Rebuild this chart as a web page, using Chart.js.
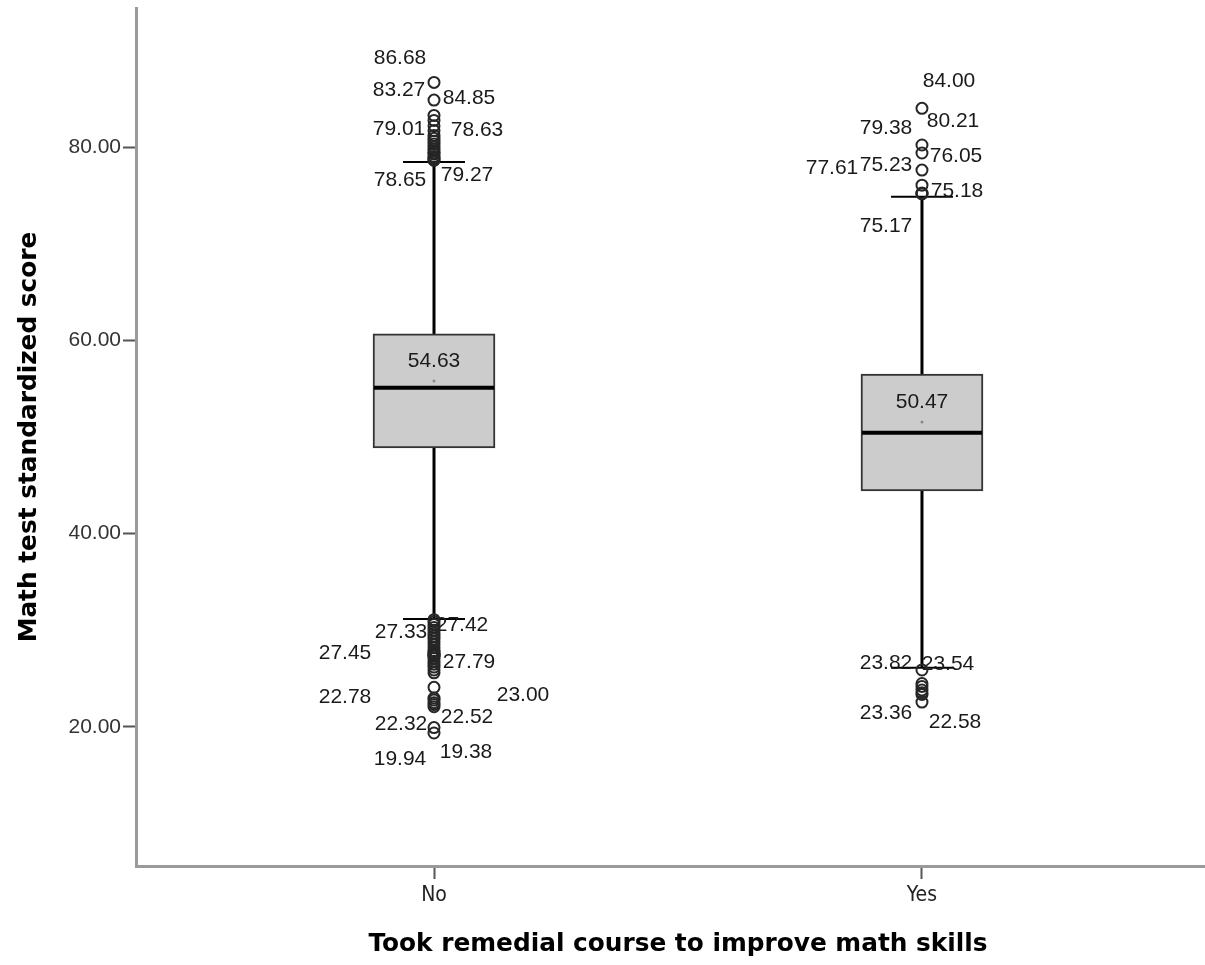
<!DOCTYPE html>
<html>
<head>
<meta charset="utf-8">
<script src="https://cdn.jsdelivr.net/npm/chart.js@4/dist/chart.umd.min.js"></script>
<style>
  html, body { margin: 0; padding: 0; background: #ffffff; }
  #wrap { width: 1205px; height: 965px; position: relative; }
</style>
</head>
<body>
<div id="wrap"><canvas id="c" width="1205" height="965"></canvas></div>
<script>
// ---------- data ----------
const categories = ['No', 'Yes'];
const q1Values = [48.86, 44.42];
const q3Values = [60.66, 56.52];
const medianValues = [55.10, 50.45];
const meanValues = [55.79, 51.55];
const whiskerLowValues = [31.17, 26.14];
const whiskerHighValues = [78.45, 74.86];
const boxLabels = ['54.63', '50.47'];

const outliersNo = [86.68, 84.85, 83.27, 82.75, 82.2, 81.7, 81.2, 80.9, 80.6, 80.3, 80.0, 79.8, 79.6, 79.4,
  79.27, 79.01, 78.85, 78.65, 78.63,
  31.1, 30.9, 30.6, 30.3, 30.0, 29.7, 29.4, 29.1, 28.8, 28.5, 28.2, 27.9, 27.79, 27.6, 27.45, 27.42, 27.33,
  27.1, 26.8, 26.5, 26.2, 25.9, 25.6, 24.1, 23.00, 22.78, 22.52, 22.32, 22.1, 19.94, 19.38];
const outliersYes = [84.00, 80.21, 79.38, 77.61, 76.05, 75.23, 75.18, 75.17,
  25.9, 24.5, 24.2, 23.82, 23.54, 23.36, 22.58];

const labelledNo = [86.68, 83.27, 84.85, 79.01, 78.63, 78.65, 79.27,
  27.33, 27.42, 27.45, 27.79, 22.78, 23.00, 22.32, 22.52, 19.94, 19.38];
const labelledYes = [84.00, 80.21, 79.38, 77.61, 75.23, 76.05, 75.18, 75.17,
  23.82, 23.54, 23.36, 22.58];

const yTickValues = [20, 40, 60, 80];
const yTitle = 'Math test standardized score';
const xTitle = 'Took remedial course to improve math skills';

// ---------- layout (pixel offsets of labels from their outlier point) ----------
const labelOffsetsNo = [[-34, -24], [-35, -25], [35, -2], [-35, -27], [43, -30], [-34, 20], [33, 21],
  [-33, -24], [28, -30], [-89, -2], [35, 11], [-89, -3], [89, -3], [-33, 20], [33, 15], [-34, 32], [32, 19]];
const labelOffsetsYes = [[27, -27], [31, -24], [-36, -25], [-90, -2], [-36, -28], [34, -29], [35, -2], [-36, 33],
  [-36, -27], [26, -29], [-36, 19], [33, 20]];

const FONT = "'Liberation Sans', Arial, sans-serif";
const NARROW = "'Liberation Sans Narrow', 'Arial Narrow', 'DejaVu Sans Condensed', sans-serif";
const TITLE_FONT = "'DejaVu Sans', sans-serif";

const boxPlugin = {
  id: 'boxparts',
  beforeDatasetsDraw(chart) {
    const { ctx } = chart;
    const xs = chart.scales.x, ys = chart.scales.y;
    ctx.save();
    ctx.strokeStyle = '#000000';
    categories.forEach((c, i) => {
      const cx = xs.getPixelForValue(i + 1);
      const yLo = ys.getPixelForValue(whiskerLowValues[i]);
      const yHi = ys.getPixelForValue(whiskerHighValues[i]);
      const yQ1 = ys.getPixelForValue(q1Values[i]);
      const yQ3 = ys.getPixelForValue(q3Values[i]);
      ctx.lineWidth = 3;
      ctx.beginPath();
      ctx.moveTo(cx, yHi); ctx.lineTo(cx, yQ3);
      ctx.moveTo(cx, yQ1); ctx.lineTo(cx, yLo);
      ctx.stroke();
      ctx.lineWidth = 2;
      ctx.beginPath();
      ctx.moveTo(cx - 31, yHi); ctx.lineTo(cx + 31, yHi);
      ctx.moveTo(cx - 31, yLo); ctx.lineTo(cx + 31, yLo);
      ctx.stroke();
    });
    // outlier labels (drawn under the circles)
    ctx.fillStyle = '#1a1a1a';
    ctx.font = '21px ' + FONT;
    ctx.textAlign = 'center';
    ctx.textBaseline = 'middle';
    const groups = [[labelledNo, labelOffsetsNo, 1], [labelledYes, labelOffsetsYes, 2]];
    groups.forEach(([vals, offs, xv]) => {
      const px = xs.getPixelForValue(xv);
      vals.forEach((v, k) => {
        const py = ys.getPixelForValue(v);
        ctx.fillText(v.toFixed(2), px + offs[k][0], py + offs[k][1]);
      });
    });
    ctx.restore();
  },
  afterDatasetsDraw(chart) {
    const { ctx } = chart;
    const xs = chart.scales.x, ys = chart.scales.y;
    ctx.save();
    categories.forEach((c, i) => {
      const cx = xs.getPixelForValue(i + 1);
      const yMed = ys.getPixelForValue(medianValues[i]);
      const yMean = ys.getPixelForValue(meanValues[i]);
      ctx.strokeStyle = '#000000';
      ctx.lineWidth = 4;
      ctx.beginPath();
      ctx.moveTo(cx - 60, yMed); ctx.lineTo(cx + 60, yMed);
      ctx.stroke();
      ctx.fillStyle = '#8a8a8a';
      ctx.beginPath();
      ctx.arc(cx, yMean, 1.5, 0, Math.PI * 2);
      ctx.fill();
      ctx.fillStyle = '#1a1a1a';
      ctx.font = '21px ' + FONT;
      ctx.textAlign = 'center';
      ctx.textBaseline = 'middle';
      ctx.fillText(boxLabels[i], cx, yMean - 20);
    });
    // axis titles
    ctx.fillStyle = '#000000';
    ctx.font = 'bold 24.8px ' + TITLE_FONT;
    ctx.textAlign = 'center';
    ctx.textBaseline = 'middle';
    const midX = (xs.getPixelForValue(1) + xs.getPixelForValue(2)) / 2;
    ctx.fillText(xTitle, midX, chart.chartArea.bottom + 79);
    ctx.translate(30, (chart.chartArea.top + chart.chartArea.bottom) / 2);
    ctx.rotate(-Math.PI / 2);
    ctx.fillText(yTitle, 0, 0);
    ctx.restore();
  }
};

const boxData = categories.map((c, i) => ({ x: i + 1, y: [q1Values[i], q3Values[i]] }));
const outlierData = [
  ...outliersNo.map(v => ({ x: 1, y: v })),
  ...outliersYes.map(v => ({ x: 2, y: v }))
];

new Chart(document.getElementById('c'), {
  type: 'bar',
  data: {
    datasets: [
      {
        type: 'bar',
        data: boxData,
        backgroundColor: '#cccccc',
        borderColor: '#333333',
        borderWidth: 2,
        borderSkipped: false,
        barThickness: 122,
        order: 2
      },
      {
        type: 'scatter',
        data: outlierData,
        pointStyle: 'circle',
        pointRadius: 5.5,
        pointBorderWidth: 2,
        pointBorderColor: '#262626',
        pointBackgroundColor: 'rgba(255,255,255,0)',
        order: 1
      }
    ]
  },
  plugins: [boxPlugin],
  options: {
    responsive: false,
    animation: false,
    layout: { autoPadding: false, padding: { top: 8, left: 0, right: 0, bottom: 0 } },
    plugins: { legend: { display: false }, tooltip: { enabled: false } },
    scales: {
      x: {
        type: 'linear',
        min: 0.3893,
        max: 2.58,
        offset: false,
        afterFit(s) { s.height = 99; s.paddingLeft = 0; s.paddingRight = 0; },
        afterBuildTicks(s) { s.ticks = categories.map((c, i) => ({ value: i + 1 })); },
        ticks: {
          callback: (v) => categories[v - 1],
          font: { family: NARROW, size: 21 },
          color: '#222222',
          padding: 4,
          maxRotation: 0
        },
        grid: { offset: false, drawOnChartArea: false, drawTicks: true, tickLength: 13, tickColor: '#555555', tickWidth: 2 },
        border: { display: true, color: '#9a9a9a', width: 3 }
      },
      y: {
        type: 'linear',
        min: 5.62,
        max: 94.38,
        afterFit(s) { s.width = 136; s.paddingTop = 0; s.paddingBottom = 0; },
        afterBuildTicks(s) { s.ticks = yTickValues.map(v => ({ value: v })); },
        ticks: {
          callback: (v) => v.toFixed(2),
          font: { family: FONT, size: 21 },
          color: '#333333',
          padding: 2
        },
        grid: { drawOnChartArea: false, drawTicks: true, tickLength: 13, tickColor: '#555555', tickWidth: 2 },
        border: { display: true, color: '#9a9a9a', width: 3 }
      }
    }
  }
});
</script>
</body>
</html>
